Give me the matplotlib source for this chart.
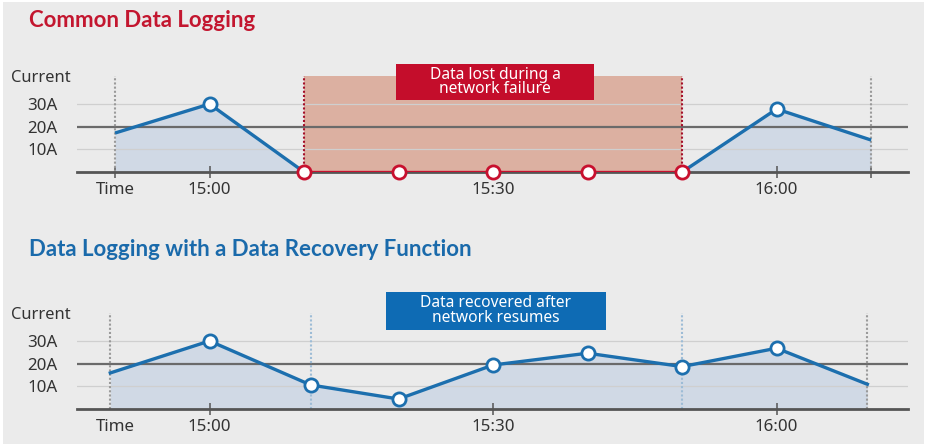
import matplotlib.pyplot as plt
from matplotlib.patches import Rectangle
from matplotlib.transforms import blended_transform_factory

# minutes after 14:50
minutes = [0, 10, 20, 30, 40, 50, 60, 70, 80]
minutes_recovery = [-0.5, 10, 20.7, 30, 40, 50, 60, 70, 79.6]
tick_minutes = [0, 10, 40, 70]
tick_labels = ["Time", "15:00", "15:30", "16:00"]

common_current = [17.2, 30, 0, 0, 0, 0, 0, 27.8, 14.1]
lost_first, lost_last = 2, 6  # indices of the network failure span
recovered_current = [15.9, 30, 10.6, 4.4, 19.4, 24.6, 18.7, 26.8, 10.9]
grid_values = [10, 20, 30]
grid_labels = ["10A", "20A", "30A"]

BG = "#ebebeb"
BLUE = "#1c6fae"
RED = "#c8102e"
FILL = "#d0d9e5"
TXT = "#333333"
FONT = "Noto Sans"
TITLE_FONT = "Lato"
LABEL_SIZE = 12.2

fig = plt.figure(figsize=(9.27, 4.46), dpi=100, facecolor="white")
fig.patches.append(Rectangle((0.003, 0.005), 0.994, 0.99, transform=fig.transFigure,
                             facecolor=BG, edgecolor="none", zorder=-10))

ax_top = fig.add_axes([0.0831, 0.6143, 0.8964, 0.2745])
ax_bot = fig.add_axes([0.0831, 0.0830, 0.8964, 0.2745])


def setup(ax):
    ax.set_facecolor("none")
    ax.set_xlim(-4.02, 83.9)
    ax.set_ylim(0, 54)
    for s in ["top", "right", "left"]:
        ax.spines[s].set_visible(False)
    ax.spines["bottom"].set_color("#555555")
    ax.spines["bottom"].set_linewidth(2.0)
    ax.spines["bottom"].set_zorder(3)
    for v in grid_values:
        if v == 20:
            ax.axhline(v, color="#6a6a6a", lw=1.6, zorder=2)
        else:
            ax.axhline(v, color="#cfcfcf", lw=0.9, zorder=2)
    ax.set_yticks(grid_values)
    ax.set_yticklabels(grid_labels, fontsize=LABEL_SIZE, color=TXT, family=FONT)
    ax.tick_params(axis="y", length=0, pad=14)
    ax.set_xticks(tick_minutes)
    ax.set_xticklabels(tick_labels, fontsize=LABEL_SIZE, color=TXT, family=FONT)
    ax.tick_params(axis="x", direction="inout", length=8, width=1.1, color="#555555", pad=3.5)
    tr = blended_transform_factory(ax.transAxes, ax.transData)
    ax.text(-0.079, 41.3, "Current", transform=tr, fontsize=LABEL_SIZE - 0.3, color=TXT,
            family=FONT, va="center", ha="left")


def dotted(ax, x, color):
    ax.plot([x, x], [0, 42.3], color=color, lw=1.5, ls=(0, (1, 1)), zorder=2.5)


setup(ax_top)
setup(ax_bot)

# ---- top: common data logging ----
ax_top.add_patch(Rectangle((minutes[lost_first], 0), minutes[lost_last] - minutes[lost_first], 42.3,
                           facecolor="#dcb0a1", edgecolor="none", zorder=1))
dotted(ax_top, minutes[0], "#9a9a9a")
dotted(ax_top, minutes[-1], "#9a9a9a")
dotted(ax_top, minutes[lost_first], "#a5102a")
dotted(ax_top, minutes[lost_last], "#a5102a")

left_x = minutes[:lost_first + 1]
left_y = common_current[:lost_first + 1]
right_x = minutes[lost_last:]
right_y = common_current[lost_last:]
for xs, ys in [(left_x, left_y), (right_x, right_y)]:
    ax_top.fill_between(xs, ys, 0, color=FILL, lw=0, zorder=1.5)
    ax_top.plot(xs, ys, color=BLUE, lw=2.4, zorder=4, solid_capstyle="butt")
ax_top.plot(minutes[lost_first:lost_last + 1], common_current[lost_first:lost_last + 1],
            color=RED, lw=2.4, zorder=4)
ax_top.plot([minutes[1], minutes[7]], [common_current[1], common_current[7]], "o",
            ms=9.5, mfc="white", mec=BLUE, mew=2.0, zorder=5)
ax_top.plot(minutes[lost_first:lost_last + 1], common_current[lost_first:lost_last + 1], "o",
            ms=9.5, mfc="white", mec=RED, mew=2.0, zorder=5, clip_on=False)
ax_top.set_xticks(tick_minutes + [80])
ax_top.set_xticklabels(tick_labels + [""], fontsize=LABEL_SIZE, color=TXT, family=FONT)

ax_top.add_patch(Rectangle((29.7, 31.7), 21.0, 15.9, facecolor="#c40d2b", edgecolor="none", zorder=6))
ax_top.text(40.2, 39.8, "Data lost during a\nnetwork failure", color="white", fontsize=11.2,
            family=FONT, ha="center", va="center", linespacing=0.88, zorder=7)

# ---- bottom: with data recovery ----
dotted(ax_bot, minutes_recovery[0], "#9a9a9a")
dotted(ax_bot, minutes_recovery[-1], "#9a9a9a")
dotted(ax_bot, minutes_recovery[2], "#9dbcd6")
dotted(ax_bot, minutes_recovery[6], "#9dbcd6")
ax_bot.fill_between(minutes_recovery, recovered_current, 0, color=FILL, lw=0, zorder=1.5)
ax_bot.plot(minutes_recovery, recovered_current, color=BLUE, lw=2.4, zorder=4)
ax_bot.plot(minutes_recovery[1:-1], recovered_current[1:-1], "o",
            ms=9.5, mfc="white", mec=BLUE, mew=2.0, zorder=5)
ax_bot.get_xaxis().get_major_ticks()[0].tick1line.set_visible(False)

ax_bot.add_patch(Rectangle((28.7, 34.8), 23.2, 16.7, facecolor="#0e6bb4", edgecolor="none", zorder=6))
ax_bot.text(40.3, 43.4, "Data recovered after\nnetwork resumes", color="white", fontsize=11.2,
            family=FONT, ha="center", va="center", linespacing=0.88, zorder=7)

fig.text(0.031, 0.955, "Common Data Logging", color="#c3162f", fontsize=16,
         fontweight="bold", family=TITLE_FONT, va="center", ha="left")
fig.text(0.031, 0.4395, "Data Logging with a Data Recovery Function", color="#1a6aab",
         fontsize=16, fontweight="bold", family=TITLE_FONT, va="center", ha="left")

fig.savefig("out.png", dpi=100, facecolor=fig.get_facecolor())
